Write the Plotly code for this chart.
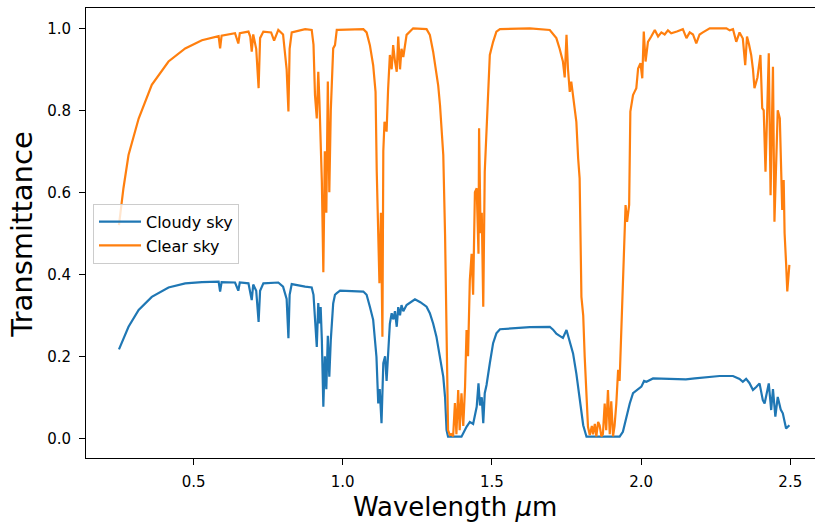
import plotly.graph_objects as go

# Wavelength (µm) and transmittance
clear_wl = [0.250, 0.265, 0.282, 0.316, 0.360, 0.416, 0.472, 0.528, 0.584, 0.589, 0.594, 0.639, 0.650, 0.655,
            0.684, 0.690, 0.695, 0.700, 0.710, 0.718, 0.723, 0.734, 0.760, 0.770, 0.784, 0.800, 0.812, 0.818,
            0.822, 0.829, 0.874, 0.896, 0.902, 0.907, 0.913, 0.918, 0.922, 0.925, 0.930, 0.935, 0.940, 0.945,
            0.950, 0.955, 0.960, 0.968, 0.974, 0.980, 0.985, 1.069, 1.080, 1.091, 1.102, 1.110, 1.114, 1.123,
            1.128, 1.133, 1.136, 1.140, 1.147, 1.152, 1.158, 1.164, 1.169, 1.175, 1.181, 1.186, 1.192, 1.197,
            1.203, 1.214, 1.236, 1.281, 1.292, 1.303, 1.314, 1.320, 1.326, 1.331, 1.337, 1.343, 1.348, 1.353,
            1.359, 1.365, 1.370, 1.376, 1.381, 1.387, 1.392, 1.398, 1.404, 1.410, 1.415, 1.420, 1.426, 1.432,
            1.437, 1.443, 1.449, 1.455, 1.457, 1.462, 1.466, 1.471, 1.476, 1.482, 1.487, 1.493, 1.504, 1.515,
            1.527, 1.627, 1.694, 1.705, 1.716, 1.727, 1.738, 1.744, 1.750, 1.755, 1.761, 1.766, 1.772, 1.778,
            1.783, 1.789, 1.794, 1.800, 1.806, 1.811, 1.817, 1.822, 1.828, 1.835, 1.839, 1.845, 1.850, 1.856,
            1.861, 1.867, 1.872, 1.878, 1.883, 1.889, 1.895, 1.900, 1.906, 1.911, 1.917, 1.923, 1.928, 1.934,
            1.939, 1.944, 1.948, 1.953, 1.960, 1.964, 1.973, 1.978, 1.984, 1.990, 1.998, 2.004, 2.009, 2.015,
            2.023, 2.034, 2.046, 2.057, 2.068, 2.079, 2.090, 2.101, 2.112, 2.120, 2.140, 2.152, 2.163, 2.174,
            2.185, 2.196, 2.207, 2.230, 2.286, 2.297, 2.308, 2.319, 2.330, 2.341, 2.349, 2.355, 2.362, 2.369,
            2.375, 2.380, 2.390, 2.400, 2.406, 2.411, 2.417, 2.428, 2.434, 2.442, 2.447, 2.458, 2.465, 2.470,
            2.473, 2.478, 2.481, 2.486, 2.490, 2.497]
clear_tr = [0.520, 0.610, 0.691, 0.780, 0.862, 0.919, 0.951, 0.971, 0.981, 0.951, 0.982, 0.988, 0.963, 0.988,
            0.992, 0.980, 0.943, 0.985, 0.950, 0.854, 0.976, 0.992, 0.990, 0.970, 0.996, 0.985, 0.900, 0.797,
            0.950, 0.990, 0.998, 0.996, 0.960, 0.837, 0.780, 0.894, 0.820, 0.750, 0.626, 0.405, 0.700, 0.550,
            0.870, 0.600, 0.800, 0.951, 0.959, 0.996, 0.996, 0.998, 0.990, 0.959, 0.910, 0.845, 0.650, 0.378,
            0.550, 0.248, 0.700, 0.772, 0.748, 0.850, 0.935, 0.900, 0.959, 0.920, 0.894, 0.980, 0.900, 0.950,
            0.930, 0.984, 1.000, 0.998, 0.984, 0.943, 0.894, 0.860, 0.813, 0.760, 0.691, 0.496, 0.240, 0.020,
            0.008, 0.010, 0.005, 0.086, 0.010, 0.118, 0.020, 0.110, 0.030, 0.126, 0.264, 0.200, 0.386, 0.450,
            0.350, 0.600, 0.610, 0.450, 0.756, 0.500, 0.550, 0.321, 0.650, 0.750, 0.850, 0.935, 0.967, 0.992,
            0.998, 1.000, 0.996, 0.985, 0.976, 0.950, 0.919, 0.880, 0.984, 0.900, 0.845, 0.870, 0.837, 0.800,
            0.772, 0.683, 0.634, 0.345, 0.300, 0.199, 0.120, 0.028, 0.008, 0.030, 0.010, 0.035, 0.005, 0.040,
            0.032, 0.005, 0.010, 0.085, 0.020, 0.118, 0.010, 0.090, 0.005, 0.030, 0.085, 0.167, 0.140, 0.264,
            0.386, 0.450, 0.569, 0.528, 0.569, 0.797, 0.837, 0.845, 0.854, 0.902, 0.915, 0.878, 0.992, 0.919,
            0.967, 0.980, 0.996, 0.980, 0.990, 0.985, 0.995, 0.988, 0.990, 0.992, 0.998, 0.976, 0.990, 0.985,
            0.963, 0.985, 0.990, 1.000, 1.000, 0.995, 0.998, 0.967, 0.990, 0.975, 0.910, 0.980, 0.960, 0.935,
            0.900, 0.854, 0.880, 0.935, 0.805, 0.800, 0.650, 0.939, 0.593, 0.906, 0.528, 0.800, 0.780, 0.630,
            0.557, 0.630, 0.500, 0.427, 0.358, 0.423]

cloudy_wl = [0.250, 0.265, 0.282, 0.316, 0.360, 0.416, 0.472, 0.528, 0.584, 0.589, 0.594, 0.639, 0.650, 0.655,
             0.684, 0.695, 0.700, 0.710, 0.718, 0.723, 0.734, 0.784, 0.800, 0.812, 0.818, 0.822, 0.829, 0.874,
             0.896, 0.902, 0.907, 0.913, 0.918, 0.922, 0.926, 0.930, 0.935, 0.940, 0.945, 0.950, 0.955, 0.960,
             0.968, 0.974, 0.980, 0.991, 1.069, 1.080, 1.091, 1.102, 1.113, 1.119, 1.124, 1.130, 1.136, 1.142,
             1.147, 1.153, 1.158, 1.164, 1.170, 1.175, 1.181, 1.186, 1.192, 1.197, 1.203, 1.214, 1.242, 1.260,
             1.281, 1.292, 1.303, 1.314, 1.320, 1.326, 1.337, 1.343, 1.348, 1.353, 1.398, 1.415, 1.426, 1.437,
             1.449, 1.455, 1.460, 1.466, 1.471, 1.476, 1.482, 1.493, 1.504, 1.515, 1.527, 1.627, 1.694, 1.705,
             1.716, 1.727, 1.738, 1.750, 1.761, 1.772, 1.783, 1.794, 1.806, 1.817, 1.928, 1.939, 1.950, 1.962,
             1.973, 1.990, 2.001, 2.010, 2.018, 2.040, 2.080, 2.120, 2.150, 2.180, 2.263, 2.308, 2.330, 2.341,
             2.352, 2.363, 2.375, 2.386, 2.397, 2.408, 2.414, 2.428, 2.436, 2.442, 2.450, 2.458, 2.468, 2.475,
             2.486, 2.497]
cloudy_tr = [0.217, 0.245, 0.272, 0.313, 0.345, 0.368, 0.378, 0.381, 0.382, 0.358, 0.381, 0.380, 0.360, 0.380,
             0.378, 0.337, 0.375, 0.360, 0.284, 0.360, 0.378, 0.380, 0.370, 0.340, 0.244, 0.350, 0.376, 0.370,
             0.368, 0.350, 0.300, 0.223, 0.330, 0.280, 0.320, 0.240, 0.077, 0.200, 0.120, 0.250, 0.150, 0.240,
             0.329, 0.350, 0.354, 0.360, 0.358, 0.350, 0.321, 0.289, 0.199, 0.085, 0.120, 0.037, 0.183, 0.200,
             0.140, 0.223, 0.280, 0.305, 0.290, 0.310, 0.272, 0.320, 0.300, 0.325, 0.310, 0.325, 0.339, 0.332,
             0.321, 0.305, 0.280, 0.248, 0.220, 0.199, 0.150, 0.100, 0.020, 0.004, 0.004, 0.028, 0.040, 0.035,
             0.077, 0.134, 0.080, 0.100, 0.037, 0.110, 0.130, 0.183, 0.232, 0.256, 0.266, 0.271, 0.272, 0.265,
             0.255, 0.250, 0.245, 0.264, 0.235, 0.207, 0.158, 0.100, 0.032, 0.004, 0.004, 0.016, 0.053, 0.085,
             0.110, 0.120, 0.126, 0.140, 0.138, 0.146, 0.145, 0.144, 0.144, 0.146, 0.152, 0.152, 0.145, 0.138,
             0.145, 0.135, 0.118, 0.125, 0.134, 0.093, 0.085, 0.134, 0.069, 0.120, 0.053, 0.101, 0.070, 0.061,
             0.024, 0.032]

x_ticks = [0.5, 1.0, 1.5, 2.0, 2.5]
x_tick_text = ["0.5", "1.0", "1.5", "2.0", "2.5"]
y_ticks = [0.0, 0.2, 0.4, 0.6, 0.8, 1.0]
y_tick_text = ["0.0", "0.2", "0.4", "0.6", "0.8", "1.0"]

FONT = "DejaVu Sans"

fig = go.Figure()
fig.add_trace(go.Scatter(x=cloudy_wl, y=cloudy_tr, mode="lines", name="Cloudy sky",
                         line=dict(color="#1f77b4", width=2.2)))
fig.add_trace(go.Scatter(x=clear_wl, y=clear_tr, mode="lines", name="Clear sky",
                         line=dict(color="#ff7f0e", width=2.2)))

axis_common = dict(showgrid=False, zeroline=False, showline=True, linecolor="black", linewidth=1,
                   ticks="outside", ticklen=6, tickwidth=1, tickcolor="black",
                   tickfont=dict(family=FONT, size=15, color="black"))

fig.update_layout(
    width=815, height=522,
    margin=dict(l=86, r=0, t=8, b=64, autoexpand=False),
    paper_bgcolor="white", plot_bgcolor="white",
    showlegend=True,
    legend=dict(x=0.0096, y=0.565, xanchor="left", yanchor="top", itemwidth=42,
                bgcolor="rgba(255,255,255,0.8)", bordercolor="#cccccc", borderwidth=1,
                font=dict(family=FONT, size=16, color="black")),
    xaxis=dict(range=[0.1395, 2.5829], tickvals=x_ticks, ticktext=x_tick_text, mirror=True,
               ticklabelstandoff=4, **axis_common),
    yaxis=dict(range=[-0.048, 1.0495], tickvals=y_ticks, ticktext=y_tick_text,
               ticklabelstandoff=5, **axis_common),
    annotations=[
        dict(text="Transmittance", xref="paper", yref="paper", x=(22.5 - 86) / 729, y=0.497,
             xanchor="center", yanchor="middle", textangle=-90, showarrow=False,
             font=dict(family=FONT, size=29, color="black")),
        dict(text="Wavelength <i>μ</i>m", xref="paper", yref="paper", x=(455 - 86) / 729, y=-0.108,
             xanchor="center", yanchor="middle", showarrow=False,
             font=dict(family=FONT, size=26, color="black")),
    ],
)

fig.write_html("out.html", config={"displayModeBar": False})

# remove the browser's default page margin so the figure sits at the window's top-left corner
with open("out.html", "r", encoding="utf-8") as f:
    html = f.read()
html = html.replace("<head>", "<head><style>html,body{margin:0;padding:0;overflow:hidden;}</style>", 1)
with open("out.html", "w", encoding="utf-8") as f:
    f.write(html)
